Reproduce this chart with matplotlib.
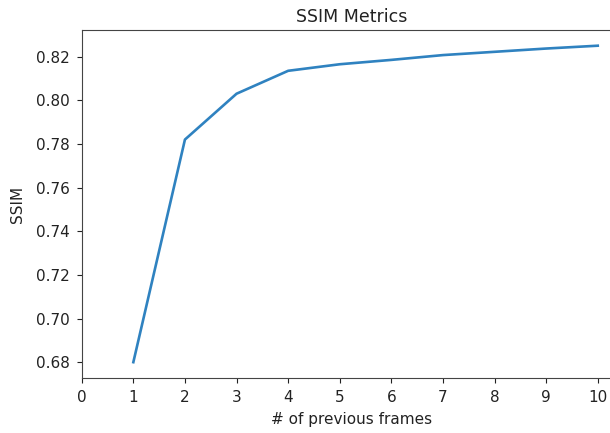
import numpy as np
import matplotlib
matplotlib.use("Agg")
import matplotlib.pyplot as plt

# number of previous frames vs SSIM
frames = [1, 2, 3, 4, 5, 6, 7, 8, 9, 10]
ssim = [0.680, 0.782, 0.803, 0.8135, 0.8165, 0.8185, 0.8207, 0.8222, 0.8237, 0.8250]
xticks = list(range(0, 11))

fig = plt.figure(figsize=(6.1, 4.33), dpi=100)
# axes run past the right edge, like the cropped original
ax = fig.add_axes([0.134, 0.127, 0.884, 0.804])
ax.plot(frames, ssim, color="#2f82c0", linewidth=1.9)
ax.set_xlim(left=0)
ax.set_xticks(xticks)
ax.tick_params(labelsize=11, colors="#222222", pad=5)
ax.set_title("SSIM Metrics", fontsize=12.5, color="#222222", pad=6)
ax.set_xlabel("# of previous frames", fontsize=11, color="#222222", labelpad=5)
ax.set_ylabel("SSIM", fontsize=11, color="#222222", labelpad=8)
for s in ax.spines.values():
    s.set_color("#444444")

fig.savefig("out.png", dpi=100)
